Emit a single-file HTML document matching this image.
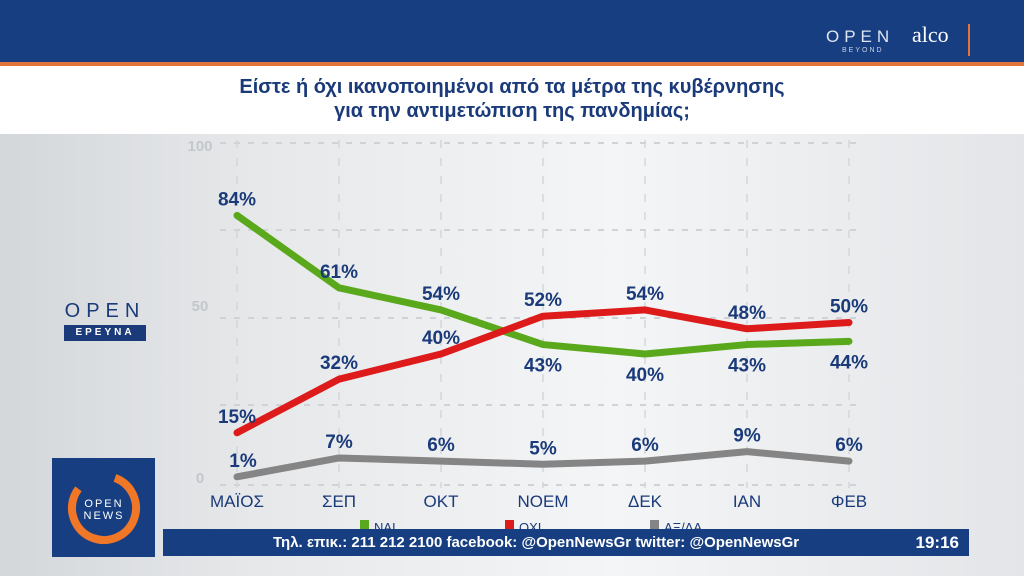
<!DOCTYPE html>
<html><head><meta charset="utf-8">
<style>
html,body{margin:0;padding:0;width:1024px;height:576px;overflow:hidden;font-family:"Liberation Sans","DejaVu Sans",sans-serif}
#bg{position:absolute;left:0;top:0;width:1024px;height:576px;background:linear-gradient(90deg,#d4d7da 0%,#e6e8ea 25%,#f4f5f6 60%,#e3e5e8 100%)}
#hdr{position:absolute;left:0;top:0;width:1024px;height:62px;background:#163e80}
#stripe{position:absolute;left:0;top:62px;width:1024px;height:4px;background:#e2743a}
#title{position:absolute;left:0;top:66px;width:1024px;height:68px;background:#fff;color:#1a3a7a;font-weight:bold;font-size:20px;line-height:24px;text-align:center;padding-top:9px;box-sizing:border-box}
</style></head><body>
<div id="bg"></div>
<div id="hdr">
 <div style="position:absolute;left:826px;top:27px;color:#dfe6f2;font-size:17px;letter-spacing:5px">OPEN</div>
 <div style="position:absolute;left:842px;top:47px;color:#c8d2e4;font-size:7px;letter-spacing:2px">BEYOND</div>
 <div style="position:absolute;left:912px;top:22px;color:#fff;font-family:'Liberation Serif',serif;font-size:22px">alco</div>
 <div style="position:absolute;left:968px;top:24px;width:2px;height:32px;background:#e2743a"></div>
</div>
<div id="stripe"></div>
<div id="title">Είστε ή όχι ικανοποιημένοι από τα μέτρα της κυβέρνησης<br>για την αντιμετώπιση της πανδημίας;</div>

<div style="position:absolute;left:64px;top:300px;width:82px">
 <div style="color:#1a3a7a;font-size:20px;letter-spacing:6px;text-align:center">OPEN</div>
 <div style="background:#1a3a7a;color:#fff;font-size:10px;font-weight:bold;letter-spacing:3px;text-align:center;height:16px;line-height:16px;margin-top:2px">ΕΡΕΥΝΑ</div>
</div>

<svg id="chart" width="1024" height="576" style="position:absolute;left:0;top:0"></svg>

<div style="position:absolute;left:52px;top:458px;width:103px;height:99px;background:#163e80">
 <svg width="103" height="99"><circle cx="52" cy="50" r="32" fill="none" stroke="#f07628" stroke-width="8" stroke-dasharray="160 60" transform="rotate(-70 52 50)"/>
 <text x="52" y="49" fill="#fff" font-size="11" text-anchor="middle" letter-spacing="2">OPEN</text><text x="52" y="61" fill="#fff" font-size="11" text-anchor="middle" letter-spacing="2">NEWS</text></svg>
</div>
<div style="position:absolute;left:163px;top:529px;width:806px;height:27px;background:#163e80;color:#fff;font-weight:bold;font-size:15px;line-height:27px">
 <span style="position:absolute;left:110px">Τηλ. επικ.: 211 212 2100 facebook: @OpenNewsGr twitter: @OpenNewsGr</span>
 <span style="position:absolute;right:10px;font-size:17px">19:16</span>
</div>

<script>
const categories=["ΜΑΪΟΣ","ΣΕΠ","ΟΚΤ","ΝΟΕΜ","ΔΕΚ","ΙΑΝ","ΦΕΒ"];
const naiValues=[84,61,54,43,40,43,44];
const oxiValues=[15,32,40,52,54,48,50];
const adValues=[1,7,6,5,6,9,6];
const naiLabelAbove=[1,1,1,0,0,0,0];
const oxiLabelAbove=[1,1,1,1,1,1,1];
const yTicks=[0,50,100];
const legendLabels=["ΝΑΙ","ΟΧΙ","ΑΞ/ΔΑ"];

const svg=document.getElementById('chart');
const NS='http://www.w3.org/2000/svg';
function xS(i){return 237+i*102;}
function yS(v){return 480-v*3.15;}
function mk(t,a,txt){const e=document.createElementNS(NS,t);for(const k in a)e.setAttribute(k,a[k]);if(txt!==undefined)e.textContent=txt;svg.appendChild(e);return e;}

[143,230,318,405,485].forEach(y=>{const g=mk('line',{x1:220,x2:860,y1:y,y2:y,stroke:'#cfd2d6','stroke-width':2,'stroke-dasharray':'6 8'});
});
categories.forEach((c,i)=>{const g=mk('line',{x1:xS(i),x2:xS(i),y1:140,y2:488,stroke:'#d4d7da','stroke-width':1.5,'stroke-dasharray':'8 10'});

const t=mk('text',{x:xS(i),y:507,'text-anchor':'middle',fill:'#1a3a7a','font-size':17},c);
});
const tickY={0:477,50:305,100:145};
yTicks.forEach(v=>{const t=mk('text',{x:200,y:tickY[v]+6,'text-anchor':'middle',fill:'#c4c7cb','font-size':15,'font-weight':'bold'},String(v));
});

function series(vals,color,name){
 const p=mk('polyline',{points:vals.map((v,i)=>xS(i)+','+yS(v)).join(' '),fill:'none',stroke:color,'stroke-width':7,'stroke-linecap':'round','stroke-linejoin':'round'});
 
}
series(adValues,'#858585','series-adda-line');
series(naiValues,'#5aa81c','series-nai-line');
series(oxiValues,'#dd1b1b','series-oxi-line');

function labels(vals,above,name,dx){
 vals.forEach((v,i)=>{const y=above[i]?yS(v)-10:yS(v)+27;
  const t=mk('text',{x:xS(i)+(dx&&i===0?dx:0),y:y,'text-anchor':'middle',fill:'#1a3a7a','font-size':19,'font-weight':'bold'},v+'%');
  });
}
labels(naiValues,naiLabelAbove,'nai-value-label');
labels(oxiValues,oxiLabelAbove,'oxi-value-label');
labels(adValues,[1,1,1,1,1,1,1],'adda-value-label',6);

const legendColors=['#5aa81c','#dd1b1b','#858585'];
legendLabels.forEach((l,i)=>{const x=360+i*145;
 const r=mk('rect',{x:x,y:520,width:9,height:9,fill:legendColors[i]});
 const t=mk('text',{x:x+14,y:532,fill:'#1a3a7a','font-size':13},l);});
</script>
</body></html>
